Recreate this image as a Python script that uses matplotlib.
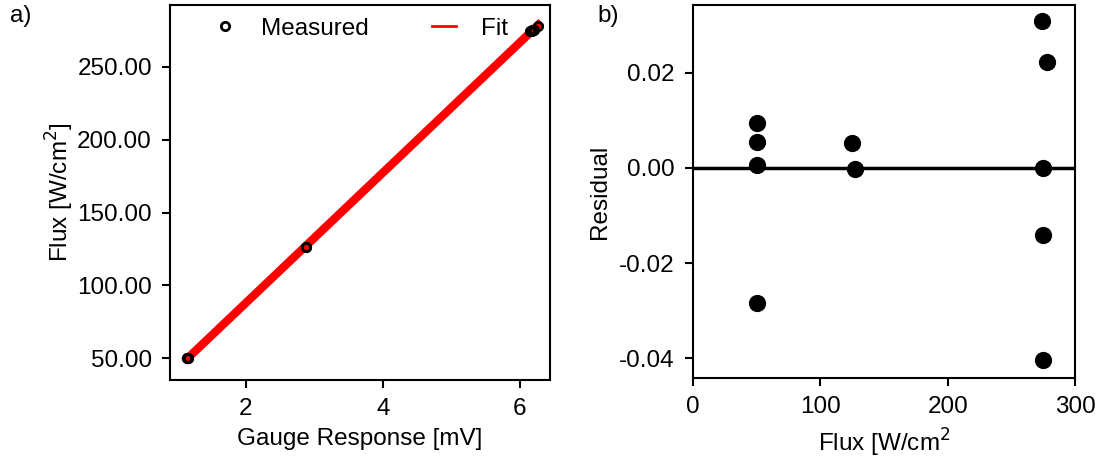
import numpy as np
import matplotlib.pyplot as plt

plt.rcParams['font.family'] = ['Liberation Sans', 'DejaVu Sans']
plt.rcParams['font.size'] = 17.5

# measured gauge response [mV] and flux [W/cm2]
gauge_mv = [1.14, 1.15, 1.14, 1.15, 2.87, 2.88, 6.15, 6.17, 6.18, 6.20, 6.27]
flux = [50.0, 50.2, 49.8, 50.1, 126.0, 126.3, 275.0, 275.5, 274.8, 275.2, 278.0]

# residuals vs flux
res_flux = [50, 50, 50, 50, 125, 127, 274, 275, 275, 275, 278]
residual = [0.0095, 0.0055, 0.0007, -0.0285, 0.0053, -0.0003, 0.031, 0.0, -0.0141, -0.0405, 0.0222]

fig = plt.figure(figsize=(11.01, 4.59), dpi=100)
ax1 = fig.add_axes([170 / 1101, 1 - 380 / 459, 380 / 1101, 375 / 459])
ax2 = fig.add_axes([693 / 1101, 1 - 378 / 459, 382 / 1101, 373 / 459])

# fit line
coef = np.polyfit(gauge_mv, flux, 1)
xs = np.array(sorted(gauge_mv))
ax1.plot(xs, np.polyval(coef, xs), color='red', lw=6, label='Fit', zorder=1)
ax1.plot(gauge_mv, flux, 'o', mfc='none', mec='black', mew=2, ms=6,
         label='Measured', zorder=2)
ax1.set_xlim(0.89, 6.44)
ax1.set_ylim(34.9, 292.6)
ax1.set_xticks([2, 4, 6])
ax1.set_yticks([50, 100, 150, 200, 250])
ax1.yaxis.set_major_formatter(plt.FormatStrFormatter('%.2f'))
ax1.set_xlabel('Gauge Response [mV]', labelpad=6)
ax1.set_ylabel('Flux [W/cm$^2$]', labelpad=1)
h, l = ax1.get_legend_handles_labels()
leg = ax1.legend(h[::-1], l[::-1], ncol=2, frameon=False, loc='upper center',
                 bbox_to_anchor=(0.5, 1.025), columnspacing=2.6, handlelength=1.0,
                 handletextpad=1.0)
for lh in leg.get_lines():
    lh.set_linewidth(2)

ax2.axhline(0, color='black', lw=2.5, zorder=1)
ax2.scatter(res_flux, residual, s=130, color='black', zorder=2)
ax2.set_xlim(0, 300)
ax2.set_ylim(-0.0442, 0.0343)
ax2.set_xticks([0, 100, 200, 300])
ax2.set_yticks([-0.04, -0.02, 0.0, 0.02])
ax2.yaxis.set_major_formatter(plt.FormatStrFormatter('%.2f'))
ax2.set_xlabel('Flux [W/cm$^2$', labelpad=6)
ax2.set_ylabel('Residual', labelpad=6)

for ax in (ax1, ax2):
    for s in ax.spines.values():
        s.set_linewidth(1.5)
    ax.tick_params(width=1.5, length=6, pad=7)

fig.text(10 / 1101, 1 - 22 / 459, 'a)', fontsize=17.5)
fig.text(597 / 1101, 1 - 22 / 459, 'b)', fontsize=17.5)

fig.savefig('out.png', dpi=100)
